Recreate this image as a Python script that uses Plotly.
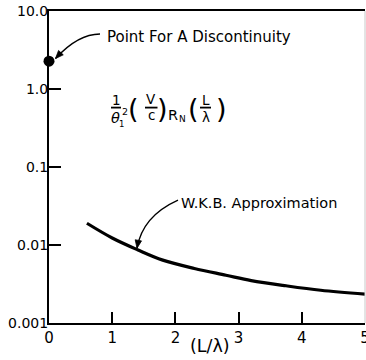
import plotly.graph_objects as go

# W.K.B. approximation curve, (L/lambda)^3 vs normalised R_N
wkb_x = [0.6, 1.0, 1.4, 1.8, 2.3, 2.8, 3.2, 3.75, 4.3, 5.0]
wkb_y = [0.019, 0.0123, 0.0087, 0.0064, 0.0050, 0.0041, 0.0035, 0.0030, 0.00263, 0.00235]

# single value at the discontinuity
disc_x = [0.0]
disc_y = [2.27]

x_ticks = [0, 1, 2, 3, 4, 5]
x_ticktext = ["0", "1", "2", "3", "4", "5"]
y_ticks = [0.001, 0.01, 0.1, 1.0, 10.0]
y_ticktext = ["0.001", "0.01", "0.1", "1.0", "10.0"]

W, H = 366, 360
L, R, T, B = 49, 1, 11, 37.3
PW, PH = W - L - R, H - T - B

FONT = "DejaVu Sans"


def px(x):
    return (x - L) / PW


def py(y):
    return (H - B - y) / PH


def curved_arrow(p0, c, p2, head_len=8.0, head_w=3.2):
    """Quadratic curve ending in a filled arrowhead; pixel coords in, paper shapes out."""
    curve = "M {},{} Q {},{} {},{}".format(px(p0[0]), py(p0[1]), px(c[0]), py(c[1]),
                                          px(p2[0]), py(p2[1]))
    dx, dy = p2[0] - c[0], p2[1] - c[1]
    n = (dx * dx + dy * dy) ** 0.5
    ux, uy = dx / n, dy / n
    bx, by = p2[0] - ux * head_len, p2[1] - uy * head_len
    lx, ly = bx - uy * head_w, by + ux * head_w
    rx, ry = bx + uy * head_w, by - ux * head_w
    head = "M {},{} L {},{} L {},{} Z".format(px(p2[0]), py(p2[1]), px(lx), py(ly),
                                              px(rx), py(ry))
    return [
        dict(type="path", xref="paper", yref="paper", path=curve,
             line=dict(color="black", width=1.3)),
        dict(type="path", xref="paper", yref="paper", path=head,
             line=dict(color="black", width=0.8), fillcolor="black"),
    ]


fig = go.Figure()
fig.add_trace(go.Scatter(x=wkb_x, y=wkb_y, mode="lines", line=dict(color="black", width=3.2, shape="spline"),
                         showlegend=False, hoverinfo="skip"))
fig.add_trace(go.Scatter(x=disc_x, y=disc_y, mode="markers", marker=dict(color="black", size=11),
                         cliponaxis=False, showlegend=False, hoverinfo="skip"))

shapes = []
shapes += curved_arrow((100, 34), (78, 34), (55.5, 58.5))
shapes += curved_arrow((178, 200), (142.5, 216), (137, 248))

# fraction bars of the formula
for x0, x1 in [(111, 121), (145, 157.5), (200, 211)]:
    shapes.append(dict(type="line", xref="paper", yref="paper", x0=px(x0), x1=px(x1),
                       y0=py(107.5), y1=py(107.5), line=dict(color="black", width=1.8)))

# faint right frame edge
shapes.append(dict(type="line", xref="paper", yref="paper", x0=px(365), x1=px(365), y0=0, y1=1,
                   line=dict(color="#c8c8c8", width=1)))

annotations = []


def label(text, x, y, size, **kw):
    annotations.append(dict(text=text, x=px(x), y=py(y), xref="paper", yref="paper",
                            showarrow=False, xanchor=kw.pop("xanchor", "center"), yanchor="middle",
                            font=dict(family=FONT, size=size, color="black"), **kw))


label("Point For A Discontinuity", 105, 37, 15, xanchor="left")
label("W.K.B. Approximation", 179, 203, 14.5, xanchor="left")

# formula  1/θ1² (V/c) R_N (L/λ)
label("1", 116, 100, 13.5)
label("<i>θ</i>", 115, 118, 14.5)
label("1", 121, 123.5, 8.5)
label("2", 124.5, 111.5, 9.5)
label("(", 133, 108, 27)
label("V", 151, 99, 13.5)
label("c", 151, 115, 13.5)
label(")", 162, 108, 27)
label("R", 173, 115, 14.5)
label("N", 182.5, 118.5, 9)
label("(", 193, 108, 27)
label("L", 205.5, 100, 13.5)
label("λ", 206, 117, 13.5)
label(")", 221.5, 108, 27)

label("(L/λ)", 210, 346, 17.5)

fig.update_layout(
    width=W, height=H,
    margin=dict(l=L, r=R, t=T, b=B, pad=0, autoexpand=False),
    paper_bgcolor="white", plot_bgcolor="white",
    shapes=shapes, annotations=annotations,
    font=dict(family=FONT, color="black"),
    xaxis=dict(range=[0, 5], tickmode="array", tickvals=x_ticks, ticktext=x_ticktext,
               ticks="inside", ticklen=11, tickwidth=2, tickcolor="black",
               showline=True, linecolor="black", linewidth=2, mirror=True,
               showgrid=False, zeroline=False, tickfont=dict(family=FONT, size=15),
               ticklabeloverflow="allow", automargin=False),
    yaxis=dict(type="log", range=[-3, 1], tickmode="array", tickvals=y_ticks, ticktext=y_ticktext,
               ticks="inside", ticklen=12, tickwidth=2, tickcolor="black",
               showline=True, linecolor="black", linewidth=2,
               showgrid=False, zeroline=False, tickfont=dict(family=FONT, size=14),
               ticklabelstandoff=-4, ticklabeloverflow="allow", automargin=False),
)

fig.write_html("out.html")
